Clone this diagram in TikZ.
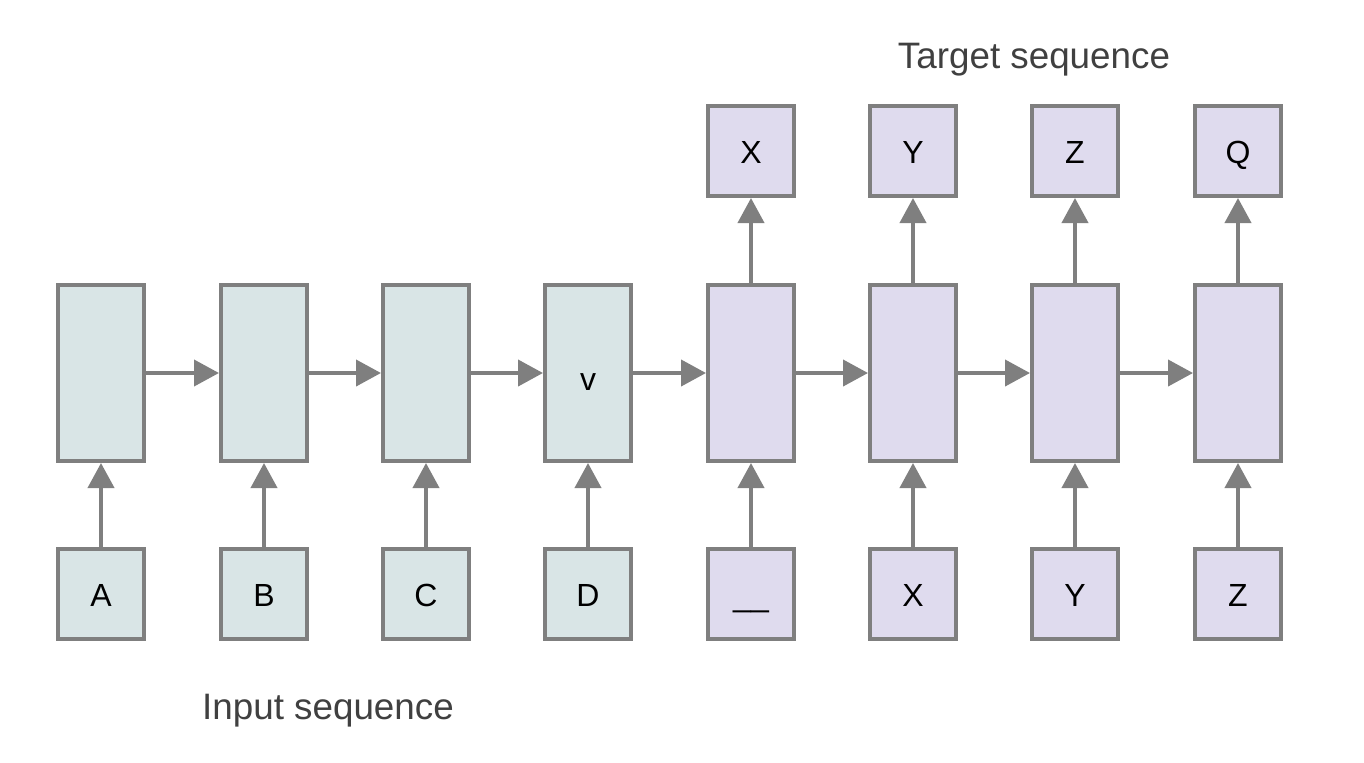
\documentclass[tikz,border=0pt]{standalone}
\usepackage{fontspec}
\setmainfont{Liberation Sans}
\usetikzlibrary{arrows.meta}

\definecolor{encfill}{HTML}{D9E5E6}
\definecolor{decfill}{HTML}{DFDBEE}
\definecolor{edgegray}{HTML}{7F7F7F}
\definecolor{labgray}{HTML}{404040}

\tikzset{
  box/.style={draw=edgegray, line width=2pt, minimum width=43pt,
              inner sep=0pt, text height=12pt, text depth=0pt,
              font=\fontsize{16}{19}\selectfont},
  cell/.style={box, minimum height=88pt},
  token/.style={box, minimum height=45pt},
  flow/.style={draw=edgegray, line width=2pt,
               -{Triangle[length=12.5pt, width=13pt]}},
  seqlabel/.style={text=labgray, font=\fontsize{18.4}{22}\selectfont}
}

\begin{document}
\begin{tikzpicture}[x=0.5pt, y=-0.5pt]
\useasboundingbox (0,0) rectangle (1364,762);

%% encoder
\foreach \i/\lab/\c in {1/A/101,2/B/264,3/C/426,4/D/588} {
  \node[cell, fill=encfill] (rnn\i) at (\c,373) {};
  \node[token, fill=encfill] (in\i) at (\c,594) {\lab};
}
\node[font=\fontsize{16}{19}\selectfont, text height=12pt, text depth=0pt,
      inner sep=0pt] (vec) at (588,378) {v};

%% decoder
\foreach \i/\lab/\c in {5/\_\_/751,6/X/913,7/Y/1075,8/Z/1238} {
  \node[cell, fill=decfill] (rnn\i) at (\c,373) {};
  \node[token, fill=decfill] (in\i) at (\c,594) {\lab};
}
\foreach \i/\lab/\c in {5/X/751,6/Y/913,7/Z/1075,8/Q/1238}
  \node[token, fill=decfill] (out\i) at (\c,151) {\lab};

%% connectors
\foreach \i in {1,...,8} \draw[flow] (in\i) -- (rnn\i);
\foreach \i [evaluate=\i as \j using int(\i+1)] in {1,...,7}
  \draw[flow] (rnn\i) -- (rnn\j);
\foreach \i in {5,...,8} \draw[flow] (rnn\i) -- (out\i);

\node[seqlabel] (inlab) at (328,711) {Input sequence};
\node[seqlabel] (tglab) at (1034,60) {Target sequence};

\end{tikzpicture}
\end{document}
